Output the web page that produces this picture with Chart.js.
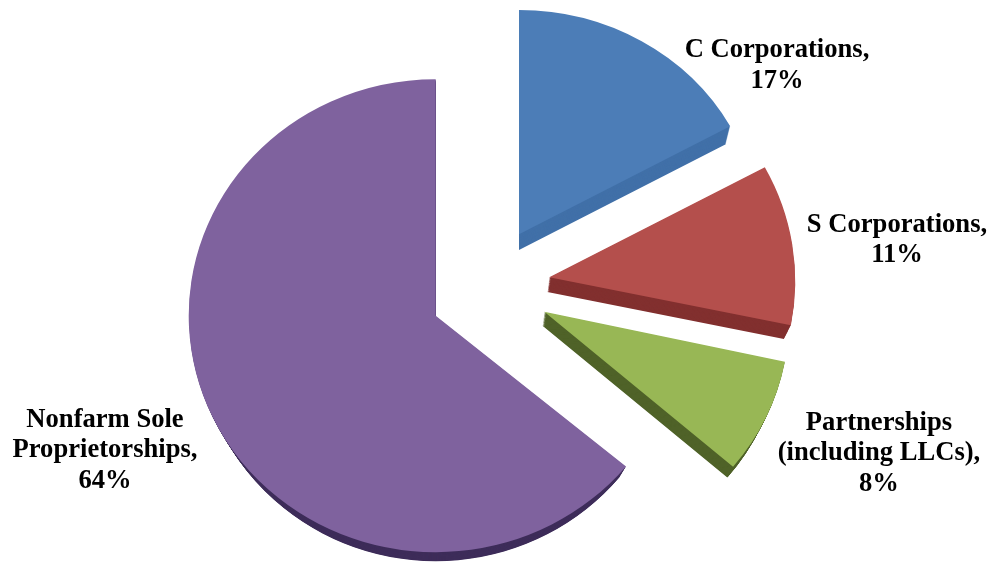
<!DOCTYPE html>
<html>
<head>
<meta charset="utf-8">
<title>Business returns by type</title>
<script src="https://cdn.jsdelivr.net/npm/chart.js@4"></script>
<style>
  body { margin: 0; background: #fff; }
  canvas { display: block; }
</style>
</head>
<body>
<canvas id="pieChart" width="992" height="563"></canvas>
<script>
const categories = ['C Corporations', 'S Corporations', 'Partnerships (including LLCs)', 'Nonfarm Sole Proprietorships'];
const shares = [17, 11, 8, 64];
const labelLines = [
    ['C Corporations,', '17%'],
    ['S Corporations,', '11%'],
    ['Partnerships', '(including LLCs),', '8%'],
    ['Nonfarm Sole', 'Proprietorships,', '64%']
];

const faceColors = ['#4c7db7', '#b44f4c', '#98b755', '#7f629e'];
const sideColors = ['#4170a8', '#82302f', '#4f6228', '#3e2d5a'];
const labelAnchors = [[777, 50.5], [897, 225], [879, 423], [105, 420]];

// per-slice look of the exploded 3D pie
const explode = [57, 60, 60, 60];
const sliceDrop = [-7, -1.5, 0, 4];
const sliceRadii = [241, 246, 245, 247];
const sliceTilt = [0.93, 0.957, 0.964, 0.9575];
const sliceShear = [0, 0.0165, 0.024, 0];

// the walls recede towards a point below the pie
const vanishX = [519, 460, 460, 436];
const wallShrinkX = [0.021, 0.021, 0.021, 0.035];

const TILT = 0.945;       // squash used when placing the exploded slices
const WALL_LAYERS = 18;   // the walls are this many stacked copies
const WALL_SHRINK_Y = 0.021;
const VANISH_Y = 984;

// Draws the slices as a tilted, extruded pie using the arc elements' own geometry
const tiltedPie = {
    id: 'tiltedPie',
    beforeDatasetDraw(chart, args) {
        const ctx = chart.ctx;
        const arcs = args.meta.data;
        arcs.forEach((arc, i) => {
            const face = arc.options;
            const mid = (arc.startAngle + arc.endAngle) / 2;
            const tipX = arc.x + Math.cos(mid) * explode[i];
            const tipY = arc.y + Math.sin(mid) * explode[i] * TILT + sliceDrop[i];
            arc.outerRadius = sliceRadii[i];

            const placeSlice = () => {
                ctx.translate(tipX, tipY);
                ctx.transform(1, sliceShear[i], 0, sliceTilt[i], 0, 0);
                ctx.translate(-arc.x, -arc.y);
            };

            arc.options = Object.assign(Object.create(face), {backgroundColor: sideColors[i]});
            for (let n = WALL_LAYERS; n > 0; n--) {
                const t = n / WALL_LAYERS;
                ctx.save();
                ctx.translate(vanishX[i], VANISH_Y);
                ctx.scale(1 - wallShrinkX[i] * t, 1 - WALL_SHRINK_Y * t);
                ctx.translate(-vanishX[i], -VANISH_Y);
                placeSlice();
                arc.draw(ctx);
                ctx.restore();
            }
            arc.options = face;
            ctx.save();
            placeSlice();
            arc.draw(ctx);
            ctx.restore();
        });
        return false;
    },
    afterDraw(chart) {
        const ctx = chart.ctx;
        ctx.save();
        ctx.fillStyle = '#000';
        ctx.font = 'bold 26.6px "Liberation Serif"';
        ctx.textAlign = 'center';
        ctx.textBaseline = 'middle';
        labelLines.forEach((lines, i) => {
            const [x, y] = labelAnchors[i];
            lines.forEach((line, n) => ctx.fillText(line, x, y + n * 30.5));
        });
        ctx.restore();
    }
};

new Chart(document.getElementById('pieChart').getContext('2d'), {
    type: 'pie',
    data: {
        labels: categories,
        datasets: [{
            data: shares,
            backgroundColor: faceColors,
            borderWidth: 0
        }]
    },
    options: {
        responsive: false,
        animation: false,
        layout: {padding: {top: 12, right: 12, bottom: 0, left: 0}},
        plugins: {legend: {display: false}, tooltip: {enabled: false}}
    },
    plugins: [tiltedPie]
});
</script>
</body>
</html>
